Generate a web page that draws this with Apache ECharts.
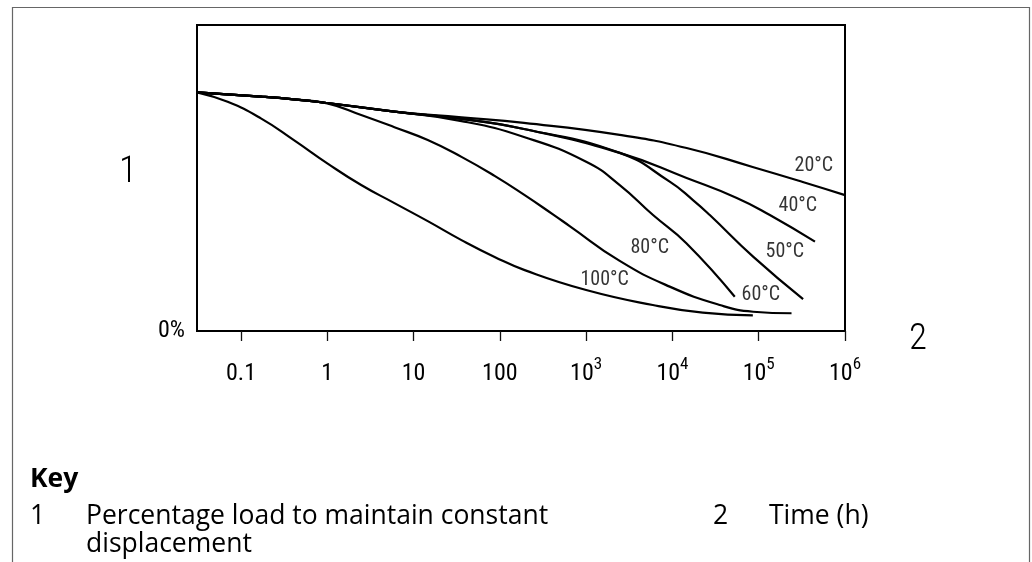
<!DOCTYPE html>
<html><head><meta charset="utf-8">
<script src="https://cdn.jsdelivr.net/npm/echarts@6/dist/echarts.min.js"></script>
<style>html,body{margin:0;padding:0;background:#fff}#c{width:1032px;height:562px}</style>
</head><body><div id="c"></div>
<script>
// ---- data (time in hours, value in % of plot height) ----
const seriesNames = ['20°C', '40°C', '50°C', '60°C', '80°C', '100°C'];

const t20 = [0.031, 0.17, 0.41, 1, 6, 36, 190, 2450, 14600, 85000, 324000, 1000000];
const v20 = [78, 76.6, 75.7, 74.5, 71.7, 69.8, 68.0, 64.1, 59.8, 53.6, 48.7, 44.4];

const t40 = [0.031, 0.17, 0.41, 1, 6, 36, 190, 2450, 14600, 55700, 134600, 448700];
const v40 = [78, 76.6, 75.7, 74.5, 71.7, 69.3, 66.0, 58.2, 50.0, 43.5, 37.9, 29.2];

const t50 = [0.031, 0.17, 0.41, 1, 6, 36, 190, 2450, 9300, 17300, 27100, 86100, 327000];
const v50 = [78, 76.6, 75.7, 74.5, 71.7, 69.3, 66.0, 58.2, 48.8, 42.8, 37.9, 24.3, 10.4];

const t60 = [0.031, 0.17, 0.41, 1, 6, 36, 190, 1000, 2450, 5960, 14500, 52800];
const v60 = [78, 76.6, 75.7, 74.5, 71.7, 68.6, 63.4, 55.3, 47.7, 37.9, 28.7, 11.2];

const t80 = [0.031, 0.17, 0.41, 1, 2.47, 6, 14.6, 35.9, 86.9, 194, 408, 644, 2450, 9300, 35400, 86100, 240000];
const v80 = [78, 76.6, 75.7, 74.4, 70.6, 66.6, 62.4, 56.9, 50.7, 44.4, 38.2, 34.3, 22.9, 14.5, 8.5, 6.3, 5.8];

const t100 = [0.031, 0.07, 0.17, 0.41, 1, 2.47, 6, 14.6, 35.9, 86.9, 194, 1000, 5920, 22500, 85500];
const v100 = [78, 74.9, 69.5, 62.4, 54.8, 47.7, 41.8, 35.9, 29.7, 24.2, 19.9, 13.4, 8.5, 6.0, 5.1];

// curve label anchors (hours, value)
const labelHours = [435500, 283800, 201000, 105700, 5460, 1640];
const labelValues = [53.8, 40.8, 25.8, 11.9, 27.1, 16.7];

const xTickHours = [0.1, 1, 10, 100, 1000, 10000, 100000, 1000000];
const xTickBase = ['0.1', '1', '10', '100', '10', '10', '10', '10'];
const xTickSup = ['', '', '', '', '3', '4', '5', '6'];
const yTickLabel = '0%';
const xAxisName = '2';
const yAxisName = '1';
const keyTitle = 'Key';
const keyNums = ['1', '2'];
const keyLine1 = 'Percentage load to maintain constant';
const keyLine1b = 'displacement';
const keyLine2 = 'Time (h)';

// ---- build ----
const lg = v => Math.log10(v);
const pairs = (t, v) => t.map((h, i) => [lg(h), v[i]]);
const curves = [[t20, v20], [t40, v40], [t50, v50], [t60, v60], [t80, v80], [t100, v100]];
const NARROW = "'Roboto Condensed', sans-serif";
const KEYFONT = "'Open Sans', 'Noto Sans', sans-serif";
const KF = '26.5px ' + KEYFONT;

const series = curves.map((c, i) => ({
  name: seriesNames[i], type: 'line', data: pairs(c[0], c[1]),
  smooth: 0.5, showSymbol: false, symbol: 'none',
  lineStyle: { color: '#000', width: 2.2 }, z: 3
}));
series.push({
  type: 'scatter', symbolSize: 1, itemStyle: { color: 'rgba(0,0,0,0)' },
  data: labelHours.map((h, i) => [lg(h), labelValues[i], seriesNames[i]]),
  label: { show: true, position: 'inside', formatter: p => p.data[2],
    fontFamily: NARROW, fontSize: 20, color: '#000', textBorderWidth: 0 }, z: 5
});

const tickLogs = xTickHours.map(lg);
const keyText = (text, x, y, font) => ({ type: 'text', silent: true,
  style: { text, x, y, font, fill: '#000', verticalAlign: 'middle', textVerticalAlign: 'middle' } });

const chart = echarts.init(document.getElementById('c'), null, { renderer: 'canvas' });
chart.setOption({
  animation: false,
  backgroundColor: '#fff',
  grid: { left: 197, top: 25, width: 648, height: 306, show: true, borderColor: '#000', borderWidth: 2, backgroundColor: 'transparent' },
  xAxis: {
    type: 'value', min: -1.51, max: 6,
    name: xAxisName, nameLocation: 'end', nameGap: 64,
    nameTextStyle: { fontFamily: NARROW, fontWeight: 300, fontSize: 37, color: '#000',
      verticalAlign: 'top', lineHeight: 18 },
    axisLine: { show: false, onZero: false },
    axisTick: { show: true, length: 10, customValues: tickLogs, lineStyle: { color: '#111', width: 1.3 } },
    splitLine: { show: false },
    axisLabel: {
      customValues: tickLogs, margin: 25,
      formatter: v => {
        const i = tickLogs.findIndex(x => Math.abs(x - v) < 1e-6);
        if (i < 0) return '';
        return xTickSup[i] ? '{b|' + xTickBase[i] + '}{s|' + xTickSup[i] + '}' : '{b|' + xTickBase[i] + '}';
      },
      rich: {
        b: { fontFamily: NARROW, fontSize: 24, lineHeight: 30, verticalAlign: 'bottom', color: '#000' },
        s: { fontFamily: NARROW, fontSize: 17, lineHeight: 17, verticalAlign: 'top', color: '#000' }
      }
    }
  },
  yAxis: {
    type: 'value', min: 0, max: 100,
    name: yAxisName, nameLocation: 'middle', nameGap: 60, nameRotate: 0,
    nameTextStyle: { fontFamily: NARROW, fontWeight: 300, fontSize: 37, color: '#000',
      verticalAlign: 'bottom', lineHeight: 11 },
    axisLine: { show: false }, axisTick: { show: false }, splitLine: { show: false },
    axisLabel: { customValues: [0], margin: 12, formatter: () => yTickLabel,
      fontFamily: NARROW, fontSize: 24, color: '#000' }
  },
  series: series,
  graphic: [
    { type: 'rect', silent: true, z: -10, shape: { x: 12.5, y: 7.5, width: 1017, height: 620 },
      style: { fill: 'none', stroke: '#666', lineWidth: 1.2 } },
    keyText(keyTitle, 30, 479, 'bold ' + KF),
    keyText(keyNums[0], 30, 516, KF),
    keyText(keyLine1, 86, 516, KF),
    keyText(keyLine1b, 86, 544, KF),
    keyText(keyNums[1], 713, 516, KF),
    keyText(keyLine2, 769, 516, KF)
  ]
});
</script></body></html>
